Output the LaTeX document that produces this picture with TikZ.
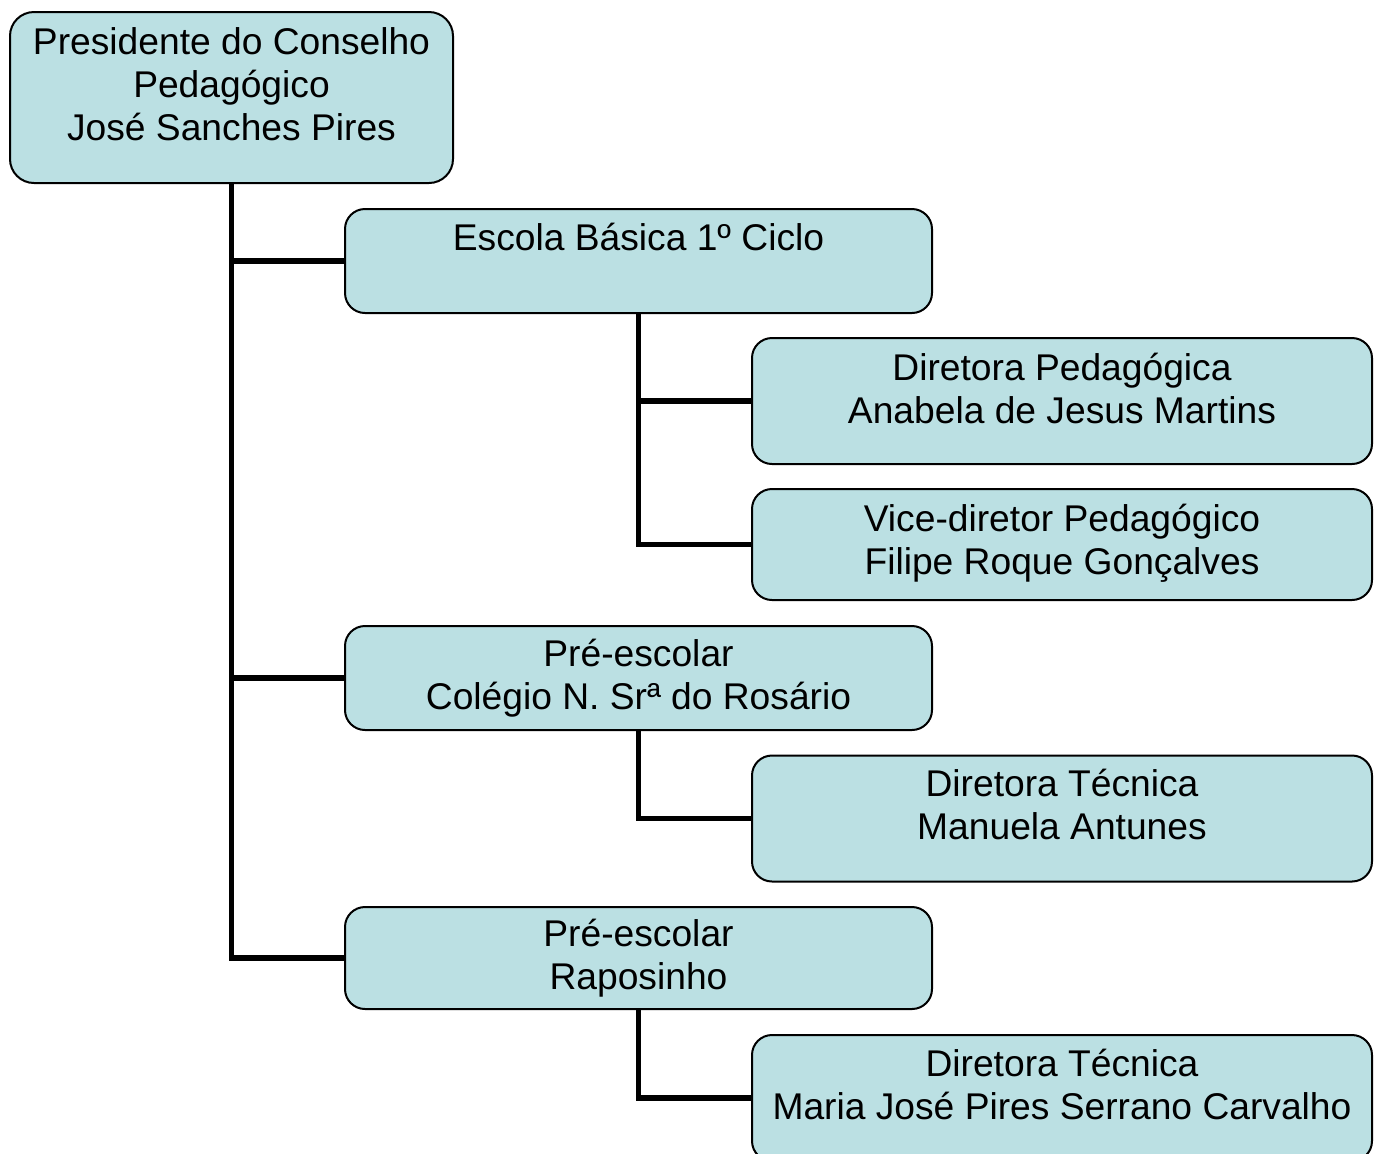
\documentclass[tikz,border=0pt]{standalone}
\usepackage{fontspec}
\setmainfont{Liberation Sans}
\usepackage{xcolor}

\definecolor{boxfill}{RGB}{187,224,227}

\begin{document}
\begin{tikzpicture}[x=0.5pt,y=-0.5pt,
		unit/.style={draw=black,line width=1pt,fill=boxfill,rounded corners=10pt,inner sep=0pt},
		upper/.style={unit,minimum width=293.5pt,minimum height=52pt},
		lower/.style={unit,minimum width=310pt,minimum height=63pt},
		txt/.style={align=center,anchor=base,inner sep=0pt,font=\fontsize{18.6}{21.5}\selectfont},
		link/.style={line width=2.75pt}]
			\useasboundingbox (0,0) rectangle (1376,1153);
			% boxes
			\node[unit,rounded corners=12pt,minimum width=221.5pt,minimum height=85.5pt] (pres) at (231.5,97.5) {};
			\node[upper] (escola) at (638.5,261) {};
			\node[lower] (dirped) at (1062,401) {};
			\node[lower,minimum height=55.5pt] (vice) at (1062,544.5) {};
			\node[upper] (rosario) at (638.5,678) {};
			\node[lower] (tecA) at (1062,818.5) {};
			\node[upper,minimum height=51pt] (raposo) at (638.5,958) {};
			\node[lower] (tecB) at (1062,1098) {};
			% texts (base = last line)
			\node[txt] (presT) at ([yshift=-64.5pt]pres.north) {Presidente do Conselho\\Pedagógico\\José Sanches Pires};
			\node[txt] (escolaT) at ([yshift=-21pt]escola.north) {Escola Básica 1º Ciclo};
			\node[txt] (dirpedT) at ([yshift=-43pt]dirped.north) {Diretora Pedagógica\\Anabela de Jesus Martins};
			\node[txt] (viceT) at ([yshift=-43pt]vice.north) {Vice-diretor Pedagógico\\Filipe Roque Gonçalves};
			\node[txt] (rosarioT) at ([yshift=-42pt]rosario.north) {Pré-escolar\\Colégio N. Srª do Rosário};
			\node[txt] (tecAT) at ([yshift=-42.5pt]tecA.north) {Diretora Técnica\\Manuela Antunes};
			\node[txt] (raposoT) at ([yshift=-41.5pt]raposo.north) {Pré-escolar\\Raposinho};
			\node[txt] (tecBT) at ([yshift=-42.5pt]tecB.north) {Diretora Técnica\\Maria José Pires Serrano Carvalho};
			% links
			\draw[link] (pres.south) |- (escola.west);
			\draw[link] (pres.south) |- (rosario.west);
			\draw[link] (pres.south) |- (raposo.west);
			\draw[link] (escola.south) |- (dirped.west);
			\draw[link] (escola.south) |- (vice.west);
			\draw[link] (rosario.south) |- (tecA.west);
			\draw[link] (raposo.south) |- (tecB.west);
		\end{tikzpicture}
\end{document}
